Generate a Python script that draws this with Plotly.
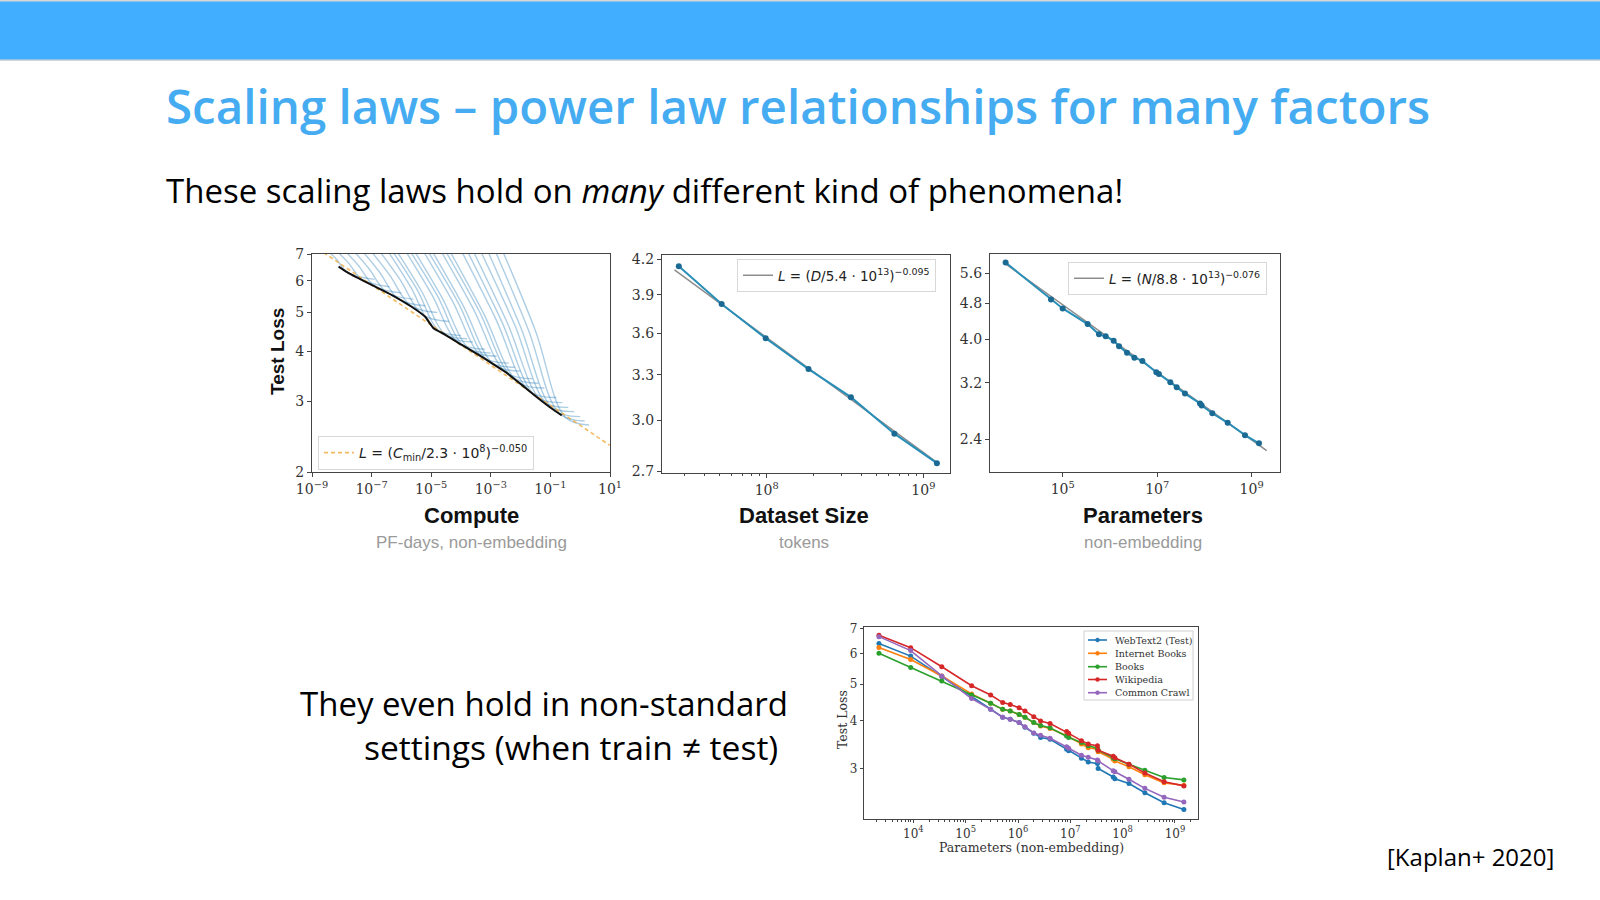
import plotly.graph_objects as go

W, H = 1600, 900

# ---------------- Panel 1: Compute ----------------
compute_frontier = [7.8e-9, 1.7e-8, 1.0e-7, 4.8e-7, 2.2e-6, 6.3e-6, 1.2e-5, 3.0e-5,
                    1.07e-4, 3.9e-4, 1.07e-3, 3.0e-3, 1.1e-2, 4.0e-2, 1.1e-1, 2.4e-1]
loss_frontier = [6.51, 6.27, 5.86, 5.53, 5.17, 4.88, 4.57, 4.40,
                 4.15, 3.92, 3.74, 3.56, 3.30, 3.05, 2.88, 2.77]
compute_fit = [1e-9, 1e1]
loss_fit = [7.38, 2.33]

# learning curves: log10(compute) and loss for each model run
curve_log_compute = [
    [-8.7, -8.2, -7.8, -6.9],
    [-8.4, -7.8, -7.3, -6.4],
    [-8.1, -7.45, -6.9, -6.0],
    [-7.8, -7.1, -6.5, -5.6],
    [-7.5, -6.75, -6.1, -5.2],
    [-7.2, -6.4, -5.7, -4.8],
    [-6.9, -6.05, -5.3, -4.4],
    [-6.6, -5.7, -4.9, -4.0],
    [-6.45, -5.5, -4.7, -3.8],
    [-6.3, -5.35, -4.5, -3.6],
    [-6.0, -5.0, -4.1, -3.2],
    [-5.85, -4.8, -3.9, -3.0],
    [-5.7, -4.65, -3.7, -2.8],
    [-5.4, -4.3, -3.3, -2.4],
    [-5.25, -4.1, -3.1, -2.2],
    [-5.1, -3.95, -2.9, -2.0],
    [-4.8, -3.6, -2.5, -1.6],
    [-4.65, -3.4, -2.3, -1.4],
    [-4.5, -3.25, -2.1, -1.2],
    [-4.1, -2.85, -1.7, -0.8],
    [-3.9, -2.65, -1.5, -0.6],
    [-3.7, -2.45, -1.3, -0.4],
    [-3.45, -2.2, -1.1, -0.2],
    [-3.2, -2.0, -0.9, 0.0],
    [-2.95, -1.75, -0.7, 0.15],
    [-2.7, -1.5, -0.5, 0.3],
]
curve_loss = [
    [7.4, 6.82, 6.29, 6.05],
    [7.4, 6.68, 6.03, 5.80],
    [7.4, 6.56, 5.82, 5.60],
    [7.4, 6.45, 5.62, 5.40],
    [7.4, 6.33, 5.41, 5.20],
    [7.4, 6.21, 5.21, 5.00],
    [7.4, 6.05, 4.94, 4.75],
    [7.4, 5.81, 4.56, 4.38],
    [7.4, 5.75, 4.47, 4.30],
    [7.4, 5.70, 4.39, 4.22],
    [7.4, 5.58, 4.21, 4.05],
    [7.4, 5.52, 4.12, 3.96],
    [7.4, 5.47, 4.04, 3.89],
    [7.4, 5.36, 3.88, 3.74],
    [7.4, 5.30, 3.79, 3.65],
    [7.4, 5.24, 3.71, 3.57],
    [7.4, 5.13, 3.55, 3.42],
    [7.4, 5.06, 3.46, 3.33],
    [7.4, 4.99, 3.36, 3.24],
    [7.4, 4.85, 3.18, 3.07],
    [7.4, 4.78, 3.09, 2.98],
    [7.4, 4.72, 3.01, 2.90],
    [7.4, 4.66, 2.94, 2.83],
    [7.4, 4.60, 2.86, 2.75],
    [7.4, 4.55, 2.80, 2.68],
    [7.4, 4.50, 2.74, 2.62],
]

# ---------------- Panel 2: Dataset size ----------------
dataset_tokens = [2.75e7, 5.16e7, 9.86e7, 1.85e8, 3.45e8, 6.53e8, 1.22e9]
dataset_loss = [4.14, 3.826, 3.562, 3.340, 3.150, 2.919, 2.745]
dataset_fit_x = [2.58e7, 1.25e9]
dataset_fit_y = [4.108, 2.742]

# ---------------- Panel 3: Parameters ----------------
param_n = [6.2e3, 5.66e4, 1.0e5, 3.38e5, 5.87e5, 8.13e5, 1.2e6, 1.56e6, 2.3e6, 3.29e6, 4.86e6,
           9.6e6, 1.09e7, 1.9e7, 2.59e7, 3.88e7, 8.07e7, 8.75e7, 1.47e8, 3.11e8, 7.23e8, 1.43e9]
param_loss = [5.915, 4.90, 4.68, 4.32, 4.10, 4.06, 3.97, 3.86, 3.73, 3.64, 3.58,
              3.38, 3.35, 3.21, 3.13, 3.03, 2.88, 2.85, 2.74, 2.61, 2.45, 2.35]
param_fit_x = [6.0e3, 2.08e9]
param_fit_y = [5.89, 2.265]

# ---------------- Bottom chart: transfer ----------------
transfer_params = [2.2e3, 8.9e3, 3.5e4, 1.3e5, 3.0e5, 5.1e5, 7.1e5, 1.05e6, 1.36e6, 2.0e6, 2.7e6, 4.1e6,
                   8.5e6, 9.3e6, 1.63e7, 2.2e7, 3.3e7, 3.4e7, 6.6e7, 7.1e7, 1.32e8, 2.66e8, 6.2e8, 1.48e9]
series_names = ["WebText2 (Test)", "Internet Books", "Books", "Wikipedia", "Common Crawl"]
webtext2 = [6.39, 5.92, 5.23, 4.63, 4.29, 4.09, 4.04, 3.96, 3.85, 3.71, 3.62, 3.58,
            3.37, 3.34, 3.19, 3.12, 3.09, 3.00, 2.85, 2.82, 2.74, 2.59, 2.44, 2.34]
internet_books = [6.24, 5.80, 5.25, 4.71, 4.45, 4.29, 4.25, 4.16, 4.09, 3.96, 3.88, 3.82,
                  3.67, 3.64, 3.48, 3.40, 3.37, 3.32, 3.17, 3.14, 3.03, 2.89, 2.75, 2.71]
books = [6.02, 5.53, 5.09, 4.68, 4.45, 4.29, 4.25, 4.16, 4.09, 3.96, 3.89, 3.84,
         3.65, 3.62, 3.51, 3.44, 3.39, 3.35, 3.20, 3.18, 3.08, 2.97, 2.84, 2.80]
wikipedia = [6.72, 6.23, 5.55, 4.95, 4.68, 4.47, 4.42, 4.33, 4.25, 4.10, 4.00, 3.94,
             3.75, 3.71, 3.55, 3.48, 3.44, 3.35, 3.23, 3.20, 3.08, 2.92, 2.77, 2.70]
common_crawl = [6.66, 6.12, 5.25, 4.58, 4.29, 4.09, 4.04, 3.96, 3.86, 3.72, 3.67, 3.60,
                3.42, 3.39, 3.25, 3.21, 3.16, 3.14, 2.96, 2.94, 2.81, 2.66, 2.52, 2.45]
series_values = [webtext2, internet_books, books, wikipedia, common_crawl]
series_colors = ["#1f77b4", "#ff7f0e", "#2ca02c", "#d62728", "#9467bd"]

# tick labels
p1_xticks = [1e-9, 1e-7, 1e-5, 1e-3, 1e-1, 1e1]
p1_xtext = ["10<sup>−9</sup>", "10<sup>−7</sup>", "10<sup>−5</sup>", "10<sup>−3</sup>", "10<sup>−1</sup>", "10<sup>1</sup>"]
p1_yticks = [2, 3, 4, 5, 6, 7]
p2_xticks = [1e8, 1e9]
p2_xtext = ["10<sup>8</sup>", "10<sup>9</sup>"]
p2_yticks = [2.7, 3.0, 3.3, 3.6, 3.9, 4.2]
p3_xticks = [1e5, 1e7, 1e9]
p3_xtext = ["10<sup>5</sup>", "10<sup>7</sup>", "10<sup>9</sup>"]
p3_yticks = [2.4, 3.2, 4.0, 4.8, 5.6]
b_xticks = [1e4, 1e5, 1e6, 1e7, 1e8, 1e9]
b_xtext = ["10<sup>4</sup>", "10<sup>5</sup>", "10<sup>6</sup>", "10<sup>7</sup>", "10<sup>8</sup>", "10<sup>9</sup>"]
b_yticks = [3, 4, 5, 6, 7]


def fx(x):
    return x / W


def fy(y):
    return 1 - y / H


fig = go.Figure()

# Panel 1 traces
for cx, cy in zip(curve_log_compute, curve_loss):
    fig.add_trace(go.Scatter(x=[10 ** v for v in cx], y=cy, mode="lines", line_shape="spline",
                             line=dict(color="rgba(31,119,180,0.36)", width=1.4),
                             xaxis="x", yaxis="y", showlegend=False, hoverinfo="skip"))
fig.add_trace(go.Scatter(x=compute_fit, y=loss_fit, mode="lines",
                         line=dict(color="rgba(240,170,60,0.8)", width=1.6, dash="4px,3px"),
                         name="<i>L</i> = (<i>C</i><sub>min</sub>/2.3 · 10<sup>8</sup>)<sup>−0.050</sup>",
                         xaxis="x", yaxis="y", legend="legend2"))
fig.add_trace(go.Scatter(x=compute_frontier, y=loss_frontier, mode="lines", line_shape="spline",
                         line=dict(color="#111111", width=2, smoothing=0.4), xaxis="x", yaxis="y",
                         showlegend=False))

# Panel 2 traces
fig.add_trace(go.Scatter(x=dataset_fit_x, y=dataset_fit_y, mode="lines",
                         line=dict(color="#8c8c8c", width=1.5),
                         name="<i>L</i> = (<i>D</i>/5.4 · 10<sup>13</sup>)<sup>−0.095</sup>",
                         xaxis="x2", yaxis="y2", legend="legend3"))
fig.add_trace(go.Scatter(x=dataset_tokens, y=dataset_loss, mode="lines+markers",
                         line=dict(color="#2a8fb8", width=2), marker=dict(color="#1b6a94", size=6),
                         xaxis="x2", yaxis="y2", showlegend=False))

# Panel 3 traces
fig.add_trace(go.Scatter(x=param_fit_x, y=param_fit_y, mode="lines",
                         line=dict(color="#8c8c8c", width=1.5),
                         name="<i>L</i> = (<i>N</i>/8.8 · 10<sup>13</sup>)<sup>−0.076</sup>",
                         xaxis="x3", yaxis="y3", legend="legend4"))
fig.add_trace(go.Scatter(x=param_n, y=param_loss, mode="lines+markers",
                         line=dict(color="#2a8fb8", width=2), marker=dict(color="#1b6a94", size=6),
                         xaxis="x3", yaxis="y3", showlegend=False))

# Bottom chart traces
for name, vals, col in zip(series_names, series_values, series_colors):
    fig.add_trace(go.Scatter(x=transfer_params, y=vals, mode="lines+markers", name=name,
                             line=dict(color=col, width=1.6), marker=dict(color=col, size=5),
                             xaxis="x4", yaxis="y4", showlegend=False))

tickfont = dict(family="DejaVu Serif", size=14, color="#333333")
small_tickfont = dict(family="DejaVu Serif", size=12, color="#333333")


def axis(domain, anchor, rng, **kw):
    d = dict(domain=domain, anchor=anchor, type="log", range=rng, showline=True, mirror=True,
             linecolor="#444444", linewidth=1.2, ticks="outside", ticklen=4, tickwidth=1,
             tickcolor="#444444", showgrid=False, zeroline=False, tickfont=tickfont,
             tickmode="array", automargin=False)
    d.update(kw)
    return d


legend_common = dict(xanchor="left", yanchor="top", bgcolor="white",
                     bordercolor="#d8d8d8", borderwidth=1)

layout = dict(
    width=W, height=H, margin=dict(l=0, r=0, t=0, b=0, pad=0, autoexpand=False),
    paper_bgcolor="white", plot_bgcolor="white",
    xaxis=axis([fx(312), fx(610)], "y", [-9, 1], tickvals=p1_xticks, ticktext=p1_xtext),
    yaxis=axis([fy(472), fy(254)], "x", [0.30103, 0.845098], tickvals=p1_yticks,
               ticktext=[str(v) for v in p1_yticks]),
    xaxis2=axis([fx(662), fx(950)], "y2", [7.332, 9.170], tickvals=p2_xticks, ticktext=p2_xtext,
                minor=dict(ticks="outside", ticklen=2, tickcolor="#444444",
                           tickvals=[3e7, 4e7, 5e7, 6e7, 7e7, 8e7, 9e7, 2e8, 3e8, 4e8, 5e8, 6e8, 7e8, 8e8, 9e8])),
    yaxis2=axis([fy(473), fy(255)], "x2", [0.4296, 0.6271], tickvals=p2_yticks,
                ticktext=["%.1f" % v for v in p2_yticks]),
    xaxis3=axis([fx(990), fx(1280)], "y3", [3.462, 9.6], tickvals=p3_xticks, ticktext=p3_xtext),
    yaxis3=axis([fy(472), fy(254)], "x3", [0.3075, 0.791], tickvals=p3_yticks,
                ticktext=["%.1f" % v for v in p3_yticks]),
    xaxis4=axis([fx(864), fx(1198)], "y4", [3.057, 9.44], tickvals=b_xticks, ticktext=b_xtext,
                tickfont=small_tickfont, ticklen=3,
                minor=dict(ticks="outside", ticklen=2, tickcolor="#444444",
                           tickvals=[m * 10 ** e for e in range(3, 10) for m in range(2, 10)])),
    yaxis4=axis([fy(819), fy(627)], "x4", [0.3444, 0.8488], tickvals=b_yticks, ticklen=3,
                ticktext=[str(v) for v in b_yticks], tickfont=small_tickfont),
    legend2=dict(x=fx(318), y=fy(436), font=dict(family="DejaVu Sans", size=14, color="#222"), **legend_common),
    legend3=dict(x=fx(737), y=fy(259), font=dict(family="DejaVu Sans", size=13.5, color="#222"), **legend_common),
    legend4=dict(x=fx(1068), y=fy(262), font=dict(family="DejaVu Sans", size=13.5, color="#222"), **legend_common),
)
fig.update_layout(**layout)

shapes = [
    dict(type="rect", xref="paper", yref="paper", x0=0, x1=1, y0=fy(61), y1=1,
         fillcolor="#d6d6d6", line=dict(width=0), layer="below"),
    dict(type="rect", xref="paper", yref="paper", x0=0, x1=1, y0=fy(59.5), y1=fy(1.5),
         fillcolor="#42AEFF", line=dict(width=0), layer="below"),
    # bottom chart legend box
    dict(type="rect", xref="paper", yref="paper", x0=fx(1084), x1=fx(1193), y0=fy(700), y1=fy(631),
         fillcolor="white", line=dict(color="#d0d0d0", width=1), layer="above"),
]

annotations = []

# bottom chart legend entries
leg_rows = [640, 653.3, 666.7, 679.5, 692.7]
for name, col, ry in zip(series_names, series_colors, leg_rows):
    shapes.append(dict(type="line", xref="paper", yref="paper", x0=fx(1088), x1=fx(1107),
                       y0=fy(ry), y1=fy(ry), line=dict(color=col, width=1.6), layer="above"))
    shapes.append(dict(type="circle", xref="paper", yref="paper", x0=fx(1095.5), x1=fx(1099.5),
                       y0=fy(ry + 2), y1=fy(ry - 2), fillcolor=col, line=dict(color=col, width=0.5),
                       layer="above"))
    annotations.append(dict(text=name, x=fx(1113), y=fy(ry), xref="paper", yref="paper",
                            showarrow=False, xanchor="left", yanchor="middle",
                            font=dict(family="DejaVu Serif", size=9.5, color="#333")))

fig.update_layout(shapes=shapes)


def ann(text, x, y, size, color="#000", family="Open Sans", xanchor="left", weight=None, angle=0):
    f = dict(family=family, size=size, color=color)
    if weight:
        f["weight"] = weight
    return dict(text=text, x=fx(x), y=fy(y), xref="paper", yref="paper", showarrow=False,
                xanchor=xanchor, yanchor="middle", font=f, textangle=angle)


annotations += [
    ann("Scaling laws – power law relationships for many factors", 164, 106, 47.5, "#45ACF2", weight=600),
    ann("These scaling laws hold on <i>many</i> different kind of phenomena!", 164, 190, 33, "#000"),
    ann("They even hold in non-standard", 790, 703, 33, "#000", xanchor="right"),
    ann("settings (when train ≠ test)", 780, 747, 33.6, "#000", xanchor="right"),
    ann("[Kaplan+ 2020]", 1556, 856, 24, "#000", xanchor="right"),
    ann("Test Loss", 277, 352, 19, "#111", family="Liberation Sans", xanchor="center", weight="bold", angle=-90),
    ann("Compute", 471, 515, 22, "#111", family="Liberation Sans", xanchor="center", weight="bold"),
    ann("PF-days, non-embedding", 471, 542, 17, "#9a9a9a", family="Liberation Sans", xanchor="center"),
    ann("Dataset Size", 804, 515, 22, "#111", family="Liberation Sans", xanchor="center", weight="bold"),
    ann("tokens", 804, 542, 17, "#9a9a9a", family="Liberation Sans", xanchor="center"),
    ann("Parameters", 1143, 515, 22, "#111", family="Liberation Sans", xanchor="center", weight="bold"),
    ann("non-embedding", 1143, 542, 17, "#9a9a9a", family="Liberation Sans", xanchor="center"),
    ann("Test Loss", 842, 720, 12.5, "#333", family="DejaVu Serif", xanchor="center", angle=-90),
    ann("Parameters (non-embedding)", 1031, 847, 12.5, "#333", family="DejaVu Serif", xanchor="center"),
]
fig.update_layout(annotations=annotations)

fig.write_html("out.html",
               config={"displayModeBar": False},
               post_script="document.body.style.margin='0px';"
                           "document.documentElement.style.overflow='hidden';")
